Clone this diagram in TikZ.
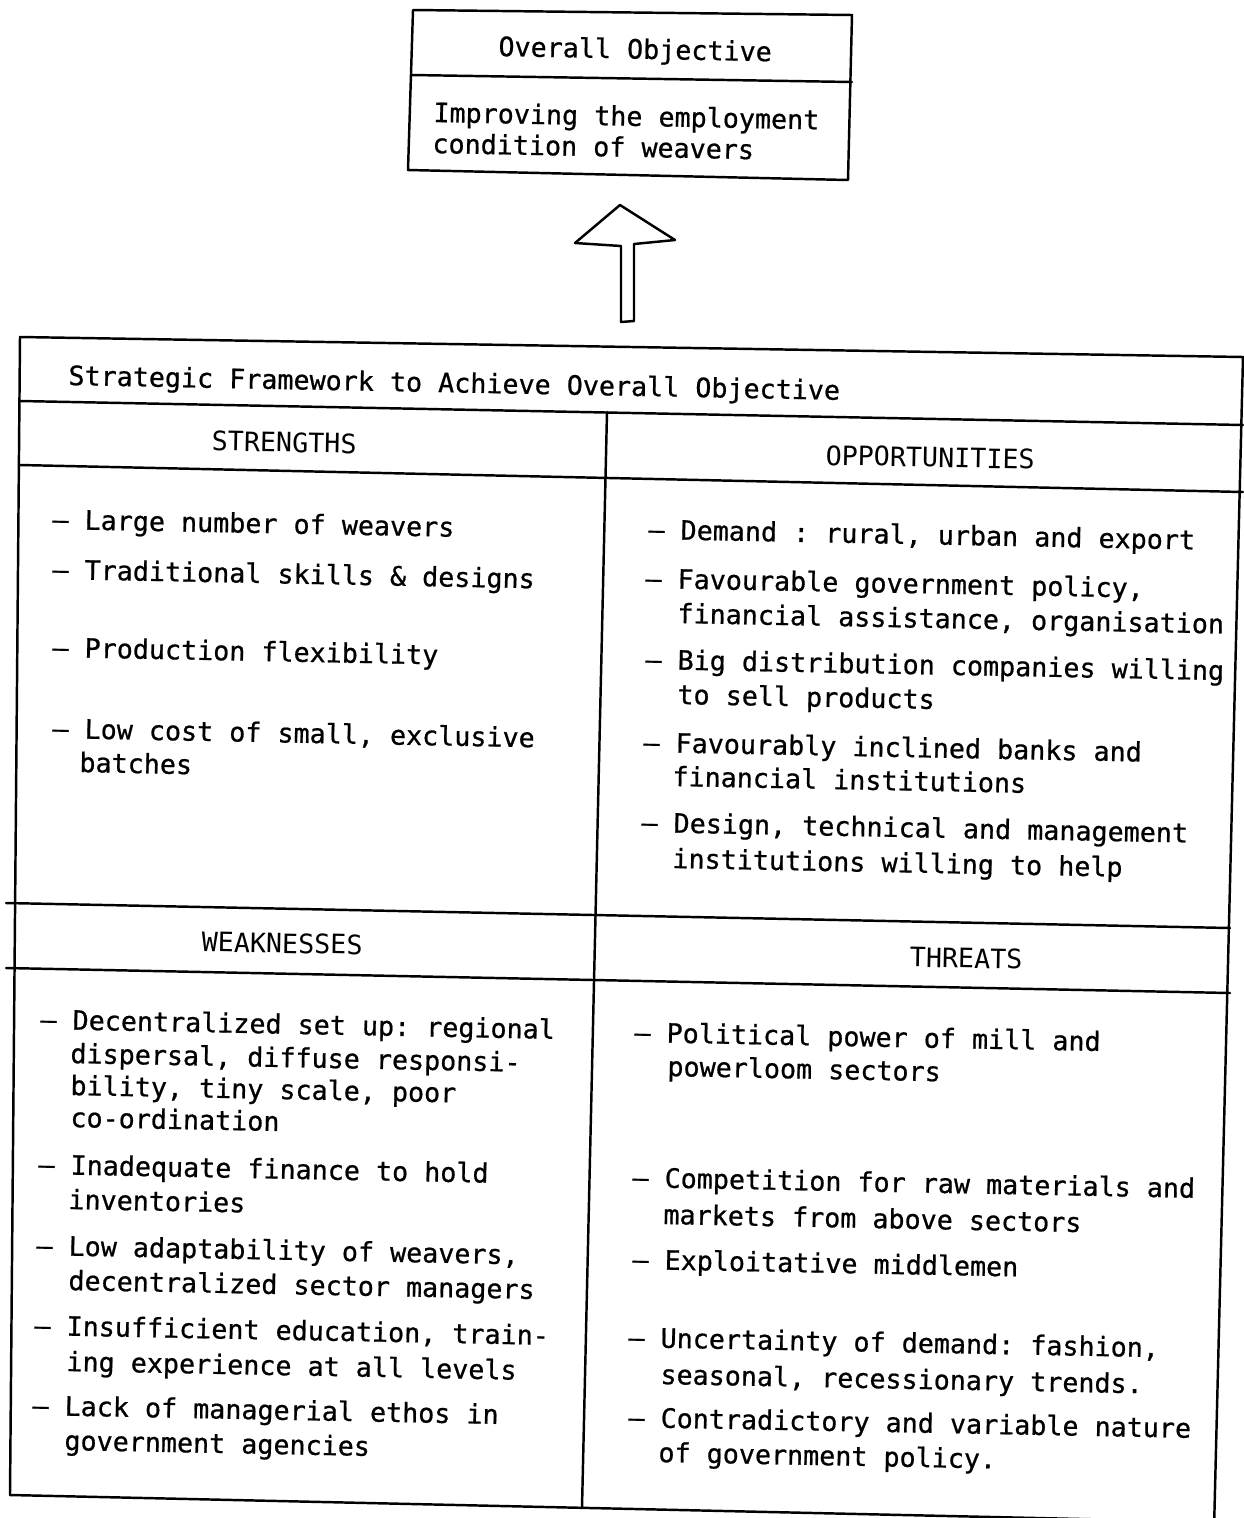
\documentclass[tikz,border=0pt]{standalone}
\usepackage{fontspec}
\newfontfamily\typew{DejaVu Sans Mono}[FakeBold=0.7]
\newfontfamily\typehd{DejaVu Sans Mono}
\frenchspacing
\begin{document}
\frenchspacing
\begin{tikzpicture}[x=0.02cm,y=-0.02cm,
  tw/.style={font=\typew\fontsize{15.2}{18}\selectfont\frenchspacing, inner sep=0pt, anchor=base west, rotate=-1.1},
  hd/.style={tw, font=\typehd\fontsize{15.2}{18}\selectfont, anchor=base},
  rule/.style={line width=1.4pt, line cap=round, line join=round}]
\fill[white] (0,0) rectangle (1244,1518);
\clip (0,0) rectangle (1244,1518);

% ---------- top box ----------
\coordinate (tbTL) at (413,10);
\coordinate (tbTR) at (852,15);
\coordinate (tbML) at (411,75);
\coordinate (tbMR) at (852,82);
\coordinate (tbBL) at (408,170);
\coordinate (tbBR) at (848,180);
\draw[rule] (tbTL) -- (tbTR) -- (tbBR) -- (tbBL) -- cycle;
\draw[rule] (tbML) -- (tbMR);
\node[tw] (t1) at (498,56) {Overall Objective};
\node[tw] (t2) at (433,122) {Improving the employment};
\node[tw] (t3) at (432,153) {condition of weavers};

% ---------- block arrow ----------
\coordinate (arL) at (575,243);
\coordinate (arA) at (620,205);
\coordinate (arR) at (675,240);
\coordinate (arS1) at (634,244);
\coordinate (arS2) at (634,321);
\coordinate (arS3) at (621,322);
\coordinate (arS4) at (621,246);
\draw[rule] (arL) -- (arA) -- (arR) -- (arS1) -- (arS2) -- (arS3) -- (arS4) -- cycle;

% ---------- framework grid ----------
\coordinate (fTL) at (20,337);
\coordinate (fTR) at (1243,357);
\coordinate (fBR) at (1214,1530);
\coordinate (fBL) at (10,1495);
\coordinate (fBE) at (1215,1522);
\draw[rule] (fBL) -- (fTL) -- (fTR) -- (fBR);
\draw[rule] (fBL) -- (fBE);
\coordinate (h1a) at (20,401);   \coordinate (h1b) at (1243,425);
\coordinate (h2a) at (20,465);   \coordinate (h2b) at (1243,492);
\coordinate (h3a) at (6,903);    \coordinate (h3b) at (1230,928);
\coordinate (h4a) at (6,968);    \coordinate (h4b) at (1230,993);
\draw[rule] (h1a) -- (h1b);
\draw[rule] (h2a) -- (h2b);
\draw[rule] (h3a) -- (h3b);
\draw[rule] (h4a) -- (h4b);
\coordinate (vTop) at (607,412);
\coordinate (vBot) at (582,1508);
\draw[rule] (vTop) -- (vBot);

\node[tw] (sf) at (68,385) {Strategic Framework to Achieve Overall Objective};

% ---------- headers ----------
\node[hd] (hS) at (284,452) {STRENGTHS};
\node[hd] (hO) at (930,467) {OPPORTUNITIES};
\node[hd] (hW) at (282,953) {WEAKNESSES};
\node[hd] (hT) at (966,968) {THREATS};

% ---------- strengths ----------
\node[tw] (s1) at (52,529) {– Large number of weavers};
\node[tw] (s2) at (52,579) {– Traditional skills \& designs};
\node[tw] (s3) at (52,657) {– Production flexibility};
\node[tw] (s4) at (52,738) {– Low cost of small, exclusive};
\node[tw] (s4b) at (79,772) {batches};

% ---------- opportunities ----------
\node[tw] (o1) at (648,539) {– Demand : rural, urban and export};
\node[tw] (o2) at (645,588) {– Favourable government policy,};
\node[tw] (o2b) at (677,623) {financial assistance, organisation};
\node[tw] (o3) at (645,669) {– Big distribution companies willing};
\node[tw] (o3b) at (677,704) {to sell products};
\node[tw] (o4) at (643,752) {– Favourably inclined banks and};
\node[tw] (o4b) at (672,786) {financial institutions};
\node[tw] (o5) at (641,832) {– Design, technical and management};
\node[tw] (o5b) at (672,868) {institutions willing to help};

% ---------- weaknesses ----------
\node[tw] (w1) at (40,1029) {– Decentralized set up: regional};
\node[tw] (w1b) at (70,1063) {dispersal, diffuse responsi-};
\node[tw] (w1c) at (70,1095) {bility, tiny scale, poor};
\node[tw] (w1d) at (70,1127) {co-ordination};
\node[tw] (w2) at (38,1174) {– Inadequate finance to hold};
\node[tw] (w2b) at (68,1209) {inventories};
\node[tw] (w3) at (36,1255) {– Low adaptability of weavers,};
\node[tw] (w3b) at (68,1290) {decentralized sector managers};
\node[tw] (w4) at (34,1335) {– Insufficient education, train-};
\node[tw] (w4b) at (66,1371) {ing experience at all levels};
\node[tw] (w5) at (32,1415) {– Lack of managerial ethos in};
\node[tw] (w5b) at (64,1450) {government agencies};

% ---------- threats ----------
\node[tw] (r1) at (634,1042) {– Political power of mill and};
\node[tw] (r1b) at (667,1076) {powerloom sectors};
\node[tw] (r2) at (632,1187) {– Competition for raw materials and};
\node[tw] (r2b) at (663,1224) {markets from above sectors};
\node[tw] (r3) at (632,1269) {– Exploitative middlemen};
\node[tw] (r4) at (628,1347) {– Uncertainty of demand: fashion,};
\node[tw] (r4b) at (660,1384) {seasonal, recessionary trends.};
\node[tw] (r5) at (628,1427) {– Contradictory and variable nature};
\node[tw] (r5b) at (658,1462) {of government policy.};
\end{tikzpicture}
\end{document}
